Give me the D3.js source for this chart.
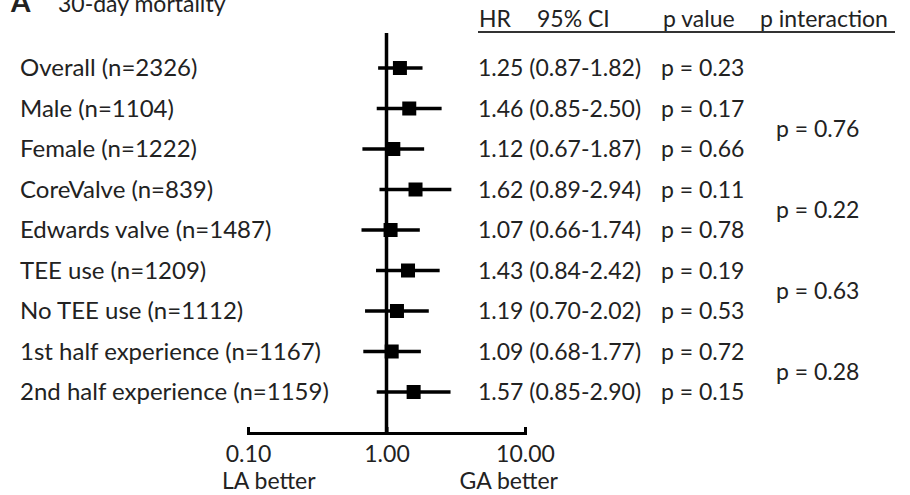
<!DOCTYPE html>
<html>
<head>
<meta charset="utf-8">
<script src="https://cdn.jsdelivr.net/npm/d3@7"></script>
<style>
  body { margin: 0; background: #fff; }
  text { font-family: Lato, "Open Sans", sans-serif; fill: #222; }
</style>
</head>
<body>
<div id="chart-area"></div>
<script>
const groups = ["Overall (n=2326)", "Male (n=1104)", "Female (n=1222)", "CoreValve (n=839)",
    "Edwards valve (n=1487)", "TEE use (n=1209)", "No TEE use (n=1112)",
    "1st half experience (n=1167)", "2nd half experience (n=1159)"];
const hr = [1.25, 1.46, 1.12, 1.62, 1.07, 1.43, 1.19, 1.09, 1.57];
const ciLow = [0.87, 0.85, 0.67, 0.89, 0.66, 0.84, 0.70, 0.68, 0.85];
const ciHigh = [1.82, 2.50, 1.87, 2.94, 1.74, 2.42, 2.02, 1.77, 2.90];
const pValues = ["0.23", "0.17", "0.66", "0.11", "0.78", "0.19", "0.53", "0.72", "0.15"];
// p interaction, each one spans a pair of rows
const interactionPairs = [[1, 2], [3, 4], [5, 6], [7, 8]];
const pInteraction = ["0.76", "0.22", "0.63", "0.28"];
const xTicks = [0.1, 1, 10];

const w = 910;
const h = 495;
const fs = "23px";

const svg = d3.select("#chart-area")
    .append("svg")
    .attr("width", w)
    .attr("height", h);

const xScale = d3.scaleLog()
    .domain([0.1, 10])
    .range([248, 525]);

const yScale = d3.scalePoint()
    .domain(groups)
    .range([68, 392]);

const axisY = 433;

// title (cut at the top edge, as in the original)
svg.append("text")
    .attr("x", 11)
    .attr("y", 12)
    .style("font-size", "28px")
    .style("font-weight", "bold")
    .text("A");

svg.append("text")
    .attr("x", 58)
    .attr("y", 12)
    .style("font-size", "23px")
    .text("30-day mortality");

// column headers
const headers = [["HR", 479], ["95% CI", 537], ["p value", 663], ["p interaction", 760]];
svg.selectAll(".header")
    .data(headers)
    .enter()
    .append("text")
    .attr("class", "header")
    .attr("x", d => d[1])
    .attr("y", 27)
    .style("font-size", "23px")
    .text(d => d[0]);

svg.append("line")
    .attr("x1", 478)
    .attr("x2", 895)
    .attr("y1", 32)
    .attr("y2", 32)
    .attr("stroke", "#333")
    .attr("stroke-width", 2);

// labels
svg.selectAll(".label")
    .data(groups)
    .enter()
    .append("text")
    .attr("class", "label")
    .attr("x", 20)
    .attr("y", d => yScale(d) + 8)
    .style("font-size", "24px")
    .text(d => d);

// reference line at 1
svg.append("line")
    .attr("x1", xScale(1))
    .attr("x2", xScale(1))
    .attr("y1", 33)
    .attr("y2", axisY)
    .attr("stroke", "#000")
    .attr("stroke-width", 3.5);

// CI lines
svg.selectAll(".ci")
    .data(groups)
    .enter()
    .append("line")
    .attr("class", "ci")
    .attr("x1", (d, i) => xScale(ciLow[i]))
    .attr("x2", (d, i) => xScale(ciHigh[i]))
    .attr("y1", d => yScale(d))
    .attr("y2", d => yScale(d))
    .attr("stroke", "#000")
    .attr("stroke-width", 3.5);

// HR squares
const sq = 14;
svg.selectAll(".hr")
    .data(groups)
    .enter()
    .append("rect")
    .attr("class", "hr")
    .attr("x", (d, i) => xScale(hr[i]) - sq / 2)
    .attr("y", d => yScale(d) - sq / 2)
    .attr("width", sq)
    .attr("height", sq)
    .attr("fill", "#000");

// value text
svg.selectAll(".val")
    .data(groups)
    .enter()
    .append("text")
    .attr("class", "val")
    .attr("x", 478)
    .attr("y", d => yScale(d) + 8)
    .style("font-size", fs)
    .text((d, i) => hr[i].toFixed(2) + " (" + ciLow[i].toFixed(2) + "-" + ciHigh[i].toFixed(2) + ")");

svg.selectAll(".pval")
    .data(groups)
    .enter()
    .append("text")
    .attr("class", "pval")
    .attr("x", 661)
    .attr("y", d => yScale(d) + 8)
    .style("font-size", fs)
    .text((d, i) => "p = " + pValues[i]);

svg.selectAll(".pint")
    .data(interactionPairs)
    .enter()
    .append("text")
    .attr("class", "pint")
    .attr("x", 776)
    .attr("y", d => (yScale(groups[d[0]]) + yScale(groups[d[1]])) / 2 + 8)
    .style("font-size", fs)
    .text((d, i) => "p = " + pInteraction[i]);

// x axis
const xAxis = d3.axisBottom(xScale)
    .tickValues(xTicks)
    .tickSizeInner(-6)
    .tickSizeOuter(-6)
    .tickPadding(13)
    .tickFormat(d3.format(".2f"));

const gx = svg.append("g")
    .attr("id", "x-axis")
    .attr("transform", "translate(0," + axisY + ")")
    .call(xAxis);

gx.select(".domain").attr("stroke", "#000").attr("stroke-width", 3);
gx.selectAll(".tick line").attr("stroke", "#000").attr("stroke-width", 3);
gx.selectAll(".tick text")
    .style("font-size", fs)
    .style("font-family", "Lato, 'Open Sans', sans-serif")
    .attr("fill", "#222");

svg.append("text")
    .attr("x", 222)
    .attr("y", 489)
    .style("font-size", fs)
    .text("LA better");

svg.append("text")
    .attr("x", 558)
    .attr("y", 489)
    .attr("text-anchor", "end")
    .style("font-size", fs)
    .text("GA better");
</script>
</body>
</html>
